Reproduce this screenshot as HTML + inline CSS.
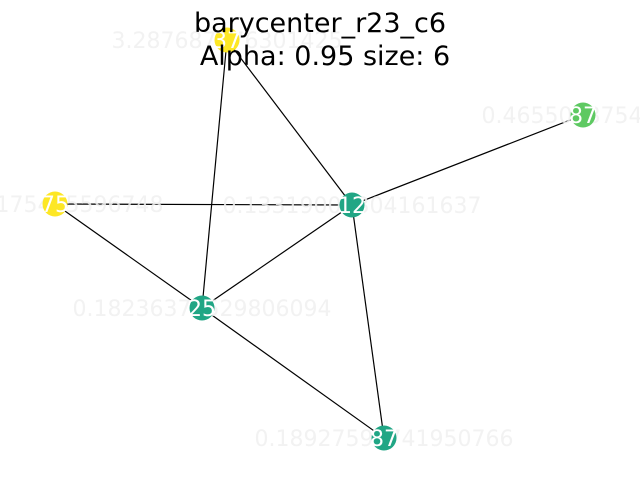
<!DOCTYPE html>
<html><head><meta charset="utf-8"><style>
html,body{margin:0;padding:0;background:#fff;width:640px;height:480px;overflow:hidden}
text{font-family:"DejaVu Sans","Liberation Sans",sans-serif}
</style></head><body>
<svg width="640" height="480" viewBox="0 0 640 480" xmlns="http://www.w3.org/2000/svg">
<g stroke="#000" stroke-width="1.2">
<line x1="227" y1="40" x2="202" y2="308"/>
<line x1="227" y1="40" x2="352" y2="205"/>
<line x1="352" y1="205" x2="583" y2="115"/>
<line x1="55" y1="204" x2="352" y2="205"/>
<line x1="55" y1="204" x2="202" y2="308"/>
<line x1="202" y1="308" x2="352" y2="205"/>
<line x1="202" y1="308" x2="384" y2="438"/>
<line x1="352" y1="205" x2="384" y2="438"/>
</g>
<g fill="#f0f0f0" fill-opacity="0.85" font-size="22" text-anchor="middle">
<text x="227" y="48">3.287687376301425</text>
<text x="583" y="123">0.4655088754153</text>
<text x="352" y="213">0.13319002304161637</text>
<text x="55" y="212">0.17175455596748</text>
<text x="202" y="316">0.18236372529806094</text>
<text x="384" y="446">0.18927598741950766</text>
</g>
<g>
<circle cx="227" cy="40" r="12.5" fill="#fde725"/>
<circle cx="583" cy="115" r="12.5" fill="#5ec962"/>
<circle cx="352" cy="205" r="12.5" fill="#21a685"/>
<circle cx="55" cy="204" r="12.5" fill="#fde725"/>
<circle cx="202" cy="308" r="12.5" fill="#21a685"/>
<circle cx="384" cy="438" r="12.5" fill="#21a685"/>
</g>
<g fill="#fff" font-size="22" text-anchor="middle">
<text x="227" y="48">37</text>
<text x="583" y="123">87</text>
<text x="352" y="213">12</text>
<text x="55" y="212">75</text>
<text x="202" y="316">25</text>
<text x="384" y="446">87</text>
</g>
<g fill="#000" font-size="27" text-anchor="middle">
<text x="320" y="32">barycenter_r23_c6</text>
<text x="325" y="65">Alpha: 0.95 size: 6</text>
</g>
</svg>
</body></html>
